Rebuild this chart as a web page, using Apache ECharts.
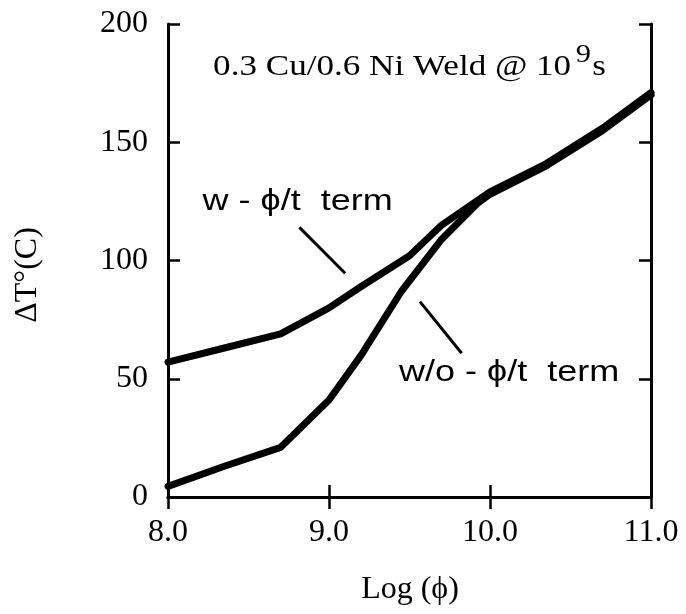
<!DOCTYPE html>
<html>
<head>
<meta charset="utf-8">
<script src="https://cdn.jsdelivr.net/npm/echarts@6/dist/echarts.min.js"></script>
<style>
html,body{margin:0;padding:0;background:#fff;}
#c{width:686px;height:614px;}
</style>
</head>
<body>
<div id="c"></div>
<script>
// Data
const logPhiWith = [8.0, 8.35, 8.7, 9.0, 9.2, 9.5, 9.7, 10.0, 10.35, 10.7, 11.0];
const dTWith     = [57, 63, 69, 80, 89, 102, 115, 129, 141, 156, 171];
const logPhiWithout = [8.0, 8.35, 8.7, 9.0, 9.2, 9.45, 9.7, 9.92, 10.0, 10.35, 10.7, 11.0];
const dTWithout     = [4.5, 13, 21, 41, 60, 87, 109, 124, 128, 140, 155, 170];
const titleText = '0.3 Cu/0.6 Ni Weld @ 10';
const titleSup = '9';
const titleTail = 's';
const labelWith = 'w - ϕ/t  term';
const labelWithout = 'w/o - ϕ/t  term';
const xName = 'Log (ϕ)';
const yName = 'ΔT°(C)';
// annotation anchors (data space)
const titlePos = [9.5, 184];
const labelWithPos = [8.215, 125];
const labelWithoutPos = [9.435, 52.5];
const leaderWith = [[8.816, 114], [9.10, 94.6]];
const leaderWithout = [[9.565, 82.6], [9.824, 60.8]];

const chart = echarts.init(document.getElementById('c'));
const serif = '"Liberation Serif", "Times New Roman", serif';
const sans = '"Liberation Sans", Arial, sans-serif';

function pairs(xs, ys){ return xs.map((x,i)=>[x, ys[i]]); }

const axisCommon = {
  axisLine: {show: true, lineStyle: {color: '#000', width: 3}},
  axisTick: {show: true, inside: true, length: 12, lineStyle: {color: '#000', width: 2.5}},
  splitLine: {show: false}
};

chart.setOption({
  animation: false,
  backgroundColor: '#fff',
  grid: {left: 168, right: 35, top: 24, bottom: 117},
  xAxis: [
    Object.assign({type: 'value', min: 8, max: 11, interval: 1, position: 'bottom',
      axisLabel: {color: '#000', fontFamily: serif, fontSize: 32, margin: 20,
        formatter: v => v.toFixed(1)}
    }, axisCommon),
    Object.assign({type: 'value', min: 8, max: 11, interval: 1, position: 'top',
      axisLabel: {show: false}}, axisCommon)
  ],
  yAxis: [
    Object.assign({type: 'value', min: 0, max: 200, interval: 50, position: 'left',
      axisLabel: {color: '#000', fontFamily: serif, fontSize: 32, margin: 20}
    }, axisCommon),
    Object.assign({type: 'value', min: 0, max: 200, interval: 50, position: 'right',
      axisLabel: {show: false}}, axisCommon)
  ],
  series: [
    {type: 'line', name: 'w', data: pairs(logPhiWith, dTWith), symbol: 'none',
      lineStyle: {color: '#000', width: 7, join: 'round', cap: 'round'}, z: 3},
    {type: 'line', name: 'w/o', data: pairs(logPhiWithout, dTWithout), symbol: 'none',
      lineStyle: {color: '#000', width: 7, join: 'round', cap: 'round'}, z: 3}
  ]
});

function px(p){ return chart.convertToPixel({xAxisIndex: 0, yAxisIndex: 0}, p); }

const tp = px(titlePos), lw = px(labelWithPos), lwo = px(labelWithoutPos);
const a1 = px(leaderWith[0]), a2 = px(leaderWith[1]);
const b1 = px(leaderWithout[0]), b2 = px(leaderWithout[1]);
const grid = {left: 168, right: 651, top: 24, bottom: 497};

chart.setOption({
  graphic: [
    {type: 'text', x: tp[0], y: tp[1], scaleX: 1.17, style: {
      text: '{a|' + titleText + '}{s|' + titleSup + '}{a|' + titleTail + '}',
      align: 'center', verticalAlign: 'middle',
      rich: {
        a: {fontFamily: serif, fontSize: 30, fill: '#000', lineHeight: 40, verticalAlign: 'bottom'},
        s: {fontFamily: serif, fontSize: 26, fill: '#000', lineHeight: 40, verticalAlign: 'top', padding: [0, 1, 16, 4]}
      }}},
    {type: 'text', x: lw[0], y: lw[1], scaleX: 1.2, style: {text: labelWith, fontFamily: sans, fontSize: 30,
      fill: '#000', align: 'left', verticalAlign: 'middle'}},
    {type: 'text', x: lwo[0], y: lwo[1], scaleX: 1.2, style: {text: labelWithout, fontFamily: sans, fontSize: 30,
      fill: '#000', align: 'left', verticalAlign: 'middle'}},
    {type: 'line', shape: {x1: a1[0], y1: a1[1], x2: a2[0], y2: a2[1]}, style: {stroke: '#000', lineWidth: 3}},
    {type: 'line', shape: {x1: b1[0], y1: b1[1], x2: b2[0], y2: b2[1]}, style: {stroke: '#000', lineWidth: 3}},
    {type: 'text', x: 410, y: 590, style: {text: xName, fontFamily: serif, fontSize: 32, fill: '#000',
      align: 'center', verticalAlign: 'middle'}},
    {type: 'text', x: 28, y: 275, rotation: Math.PI / 2, style: {text: yName, fontFamily: serif, fontSize: 32, fill: '#000',
      align: 'center', verticalAlign: 'middle'}}
  ]
});
</script>
</body>
</html>
